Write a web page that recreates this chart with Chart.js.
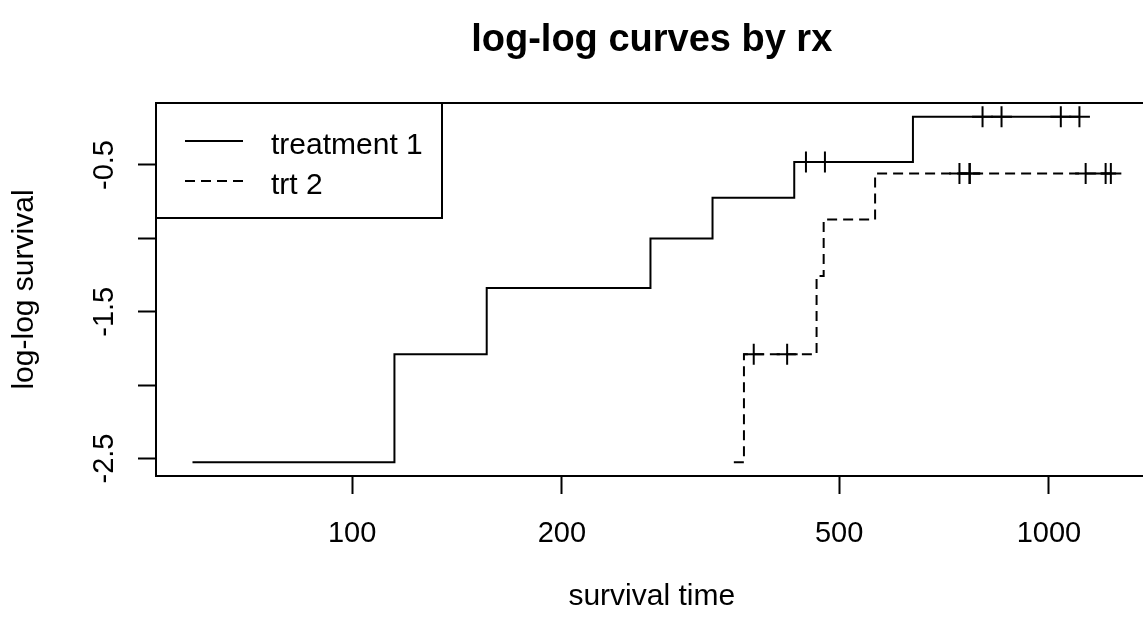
<!DOCTYPE html>
<html>
<head>
<meta charset="utf-8">
<script src="https://cdn.jsdelivr.net/npm/chart.js@4/dist/chart.umd.min.js"></script>
<style>
  html, body { margin: 0; padding: 0; background: #fff; overflow: hidden; }
  #wrap { width: 1160px; height: 625px; }
</style>
</head>
<body>
<div id="wrap"><canvas id="chart" width="1160" height="625"></canvas></div>
<script>
// ovarian data, log(-log(S)) by rx
const seriesNames = ["treatment 1", "trt 2"];

const trt1Times = [59, 115, 156, 268, 329, 431, 638, 1106];
const trt1Values = [-2.5252, -1.7895, -1.3380, -1.0004, -0.7226, -0.4796, -0.1717, -0.1717];
const trt1CensorTimes = [448, 477, 803, 855, 1040, 1106];
const trt1CensorValues = [-0.4796, -0.4796, -0.1717, -0.1717, -0.1717, -0.1717];

const trt2Times = [353, 365, 464, 475, 563, 1227];
const trt2Values = [-2.5252, -1.7895, -1.2558, -0.8714, -0.5577, -0.5577];
const trt2CensorTimes = [377, 421, 744, 769, 770, 1129, 1206, 1227];
const trt2CensorValues = [-1.7895, -1.7895, -0.5577, -0.5577, -0.5577, -0.5577, -0.5577, -0.5577];

const xTicks = [100, 200, 500, 1000];
const yTicks = [-2.5, -2, -1.5, -1, -0.5];
const yTickLabels = ["-2.5", "", "-1.5", "", "-0.5"];

const titleText = "log-log curves by rx";
const xTitle = "survival time";
const yTitle = "log-log survival";

const FONT = "'Liberation Sans', Arial, sans-serif";
const INK = "#000";
const DASH = [10, 6];

function toPoints(xs, ys) {
    return xs.map((x, i) => ({ x: x, y: ys[i] }));
}

const rPlot = {
    id: "rPlot",
    afterDraw(chart) {
        const ctx = chart.ctx;
        const area = chart.chartArea;
        const yScale = chart.scales.y;
        ctx.save();

        // box
        ctx.strokeStyle = INK;
        ctx.lineWidth = 2;
        ctx.strokeRect(area.left, area.top, area.right - area.left, area.bottom - area.top);

        // title
        ctx.fillStyle = INK;
        ctx.font = "bold 38px " + FONT;
        ctx.textAlign = "center";
        ctx.textBaseline = "alphabetic";
        ctx.fillText(titleText, (area.left + area.right) / 2, 51);

        // y tick labels, parallel to axis
        ctx.font = "29px " + FONT;
        ctx.textBaseline = "middle";
        yTicks.forEach((v, i) => {
            if (!yTickLabels[i]) return;
            ctx.save();
            ctx.translate(105, yScale.getPixelForValue(v));
            ctx.rotate(-Math.PI / 2);
            ctx.fillText(yTickLabels[i], 0, 0);
            ctx.restore();
        });

        // legend
        const lx = area.left, ly = area.top;
        ctx.lineWidth = 2;
        ctx.strokeRect(lx, ly, 286, 115);
        ctx.font = "30px " + FONT;
        ctx.textAlign = "left";
        const rows = [ly + 38, ly + 78];
        seriesNames.forEach((name, i) => {
            ctx.beginPath();
            ctx.setLineDash(i === 0 ? [] : DASH);
            ctx.moveTo(lx + 29, rows[i]);
            ctx.lineTo(lx + 87, rows[i]);
            ctx.stroke();
            ctx.setLineDash([]);
            ctx.fillText(name, lx + 115, rows[i] + 5);
        });
        ctx.restore();
    }
};

const ctx = document.getElementById("chart").getContext("2d");
new Chart(ctx, {
    type: "scatter",
    data: {
        datasets: [
            {
                label: seriesNames[0],
                data: toPoints(trt1Times, trt1Values),
                showLine: true,
                stepped: "before",
                borderColor: INK,
                borderWidth: 2,
                pointRadius: 0
            },
            {
                label: seriesNames[1],
                data: toPoints(trt2Times, trt2Values),
                showLine: true,
                stepped: "before",
                borderColor: INK,
                borderWidth: 2,
                borderDash: DASH,
                pointRadius: 0
            },
            {
                label: "censor 1",
                data: toPoints(trt1CensorTimes, trt1CensorValues),
                showLine: false,
                pointStyle: "cross",
                pointRadius: 10.5,
                borderColor: INK,
                borderWidth: 2
            },
            {
                label: "censor 2",
                data: toPoints(trt2CensorTimes, trt2CensorValues),
                showLine: false,
                pointStyle: "cross",
                pointRadius: 10.5,
                borderColor: INK,
                borderWidth: 2
            }
        ]
    },
    options: {
        responsive: false,
        animation: false,
        events: [],
        layout: { padding: { top: 103, right: 12, left: 0, bottom: 0 } },
        plugins: {
            legend: { display: false },
            title: { display: false },
            tooltip: { enabled: false }
        },
        scales: {
            x: {
                type: "logarithmic",
                min: 52.3,
                max: 1385,
                afterBuildTicks: scale => { scale.ticks = xTicks.map(v => ({ value: v })); },
                afterFit: scale => { scale.height = 149; },
                grid: { drawOnChartArea: false, drawTicks: true, tickLength: 18, tickWidth: 2, tickColor: INK },
                border: { display: false },
                ticks: {
                    color: INK,
                    font: { family: FONT, size: 29 },
                    padding: 23,
                    maxRotation: 0,
                    autoSkip: false,
                    callback: v => String(v)
                },
                title: {
                    display: true,
                    text: xTitle,
                    color: INK,
                    font: { family: FONT, size: 30 },
                    padding: { top: 0, bottom: 10 }
                }
            },
            y: {
                min: -2.6193,
                max: -0.0776,
                afterBuildTicks: scale => { scale.ticks = yTicks.map(v => ({ value: v })); },
                afterFit: scale => { scale.width = 156; },
                grid: { drawOnChartArea: false, drawTicks: true, tickLength: 18, tickWidth: 2, tickColor: INK },
                border: { display: false },
                ticks: { display: false },
                title: {
                    display: true,
                    text: yTitle,
                    color: INK,
                    font: { family: FONT, size: 30 },
                    padding: { top: 7, bottom: 0 }
                }
            }
        }
    },
    plugins: [rPlot]
});
</script>
</body>
</html>
